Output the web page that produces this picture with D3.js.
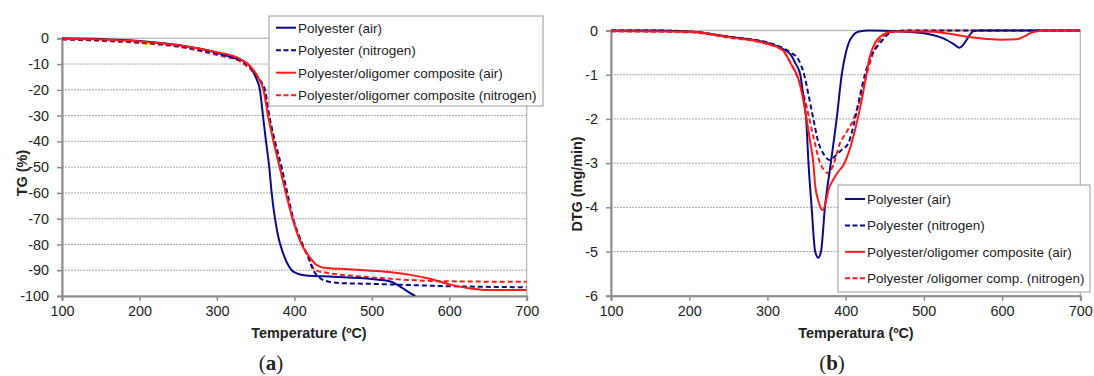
<!DOCTYPE html>
<html>
<head>
<meta charset="utf-8">
<script src="https://cdn.jsdelivr.net/npm/d3@7"></script>
<style>
  body { margin: 0; background: #fff; }
  svg { display: block; }
  text { font-family: 'Liberation Sans', Arial, sans-serif; fill: #222; }
</style>
</head>
<body>
<div id="chart"></div>
<script>
// ---- data: [temperature °C, value] ----
const tgTicksX = [100, 200, 300, 400, 500, 600, 700];
const tgTicksY = [0, -10, -20, -30, -40, -50, -60, -70, -80, -90, -100];
const dtgTicksY = [0, -1, -2, -3, -4, -5, -6];

const tgPolyAir = [[100, 0], [150, -0.3], [200, -1], [250, -2.6], [300, -5.6], [320, -7.5], [335, -9],
  [343, -11], [350, -15], [355.5, -20], [359.5, -30], [363.4, -40], [367.6, -50], [370.7, -60],
  [375, -70], [380, -78], [385, -83], [390, -86.8], [396.6, -90], [404, -91.3], [415, -92], [450, -92.5],
  [500, -93.4], [523, -94.3], [532, -95.5], [540, -97], [548, -98.6], [556, -100]];
const tgPolyN2 = [[100, -0.3], [150, -0.7], [200, -1.5], [250, -3], [300, -6], [330, -8.5], [345, -12],
  [355, -16], [362, -20], [367.6, -30], [375, -40], [383.6, -50], [390.9, -60], [398.6, -70],
  [410.7, -80], [418, -85], [424.5, -90], [433, -93], [445, -94.5], [460, -95], [500, -95.3],
  [600, -96.2], [700, -96.6]];
const tgCompAir = [[100, -0.2], [150, -0.5], [200, -1.2], [250, -2.7], [300, -5.4], [330, -8],
  [345, -11.5], [353, -15], [360, -20], [366, -30], [373, -40], [381, -50], [389, -60],
  [397.7, -70], [409.4, -80], [420, -85], [428.8, -88], [437.5, -89], [470, -89.6], [500, -90.2],
  [525, -90.8], [550, -91.8], [575, -93.3], [600, -95.5], [625, -97], [650, -97.7], [700, -97.7]];
const tgCompN2 = [[100, -0.5], [150, -1], [200, -1.8], [250, -3.3], [300, -6.5], [330, -9],
  [345, -12.5], [355, -16], [361, -20], [367, -30], [374, -40], [382, -50], [389.5, -60],
  [398, -70], [410, -80], [418, -85], [427, -90], [442, -91], [480, -92.3], [510, -93],
  [550, -93.8], [600, -94.3], [700, -94.5]];

const dtgPolyAir = [[100, 0], [150, 0], [200, -0.02], [250, -0.14], [300, -0.28], [320, -0.42],
  [330, -0.55], [336, -0.75], [342, -1], [346, -1.5], [349.5, -2], [352.5, -3], [356.5, -4],
  [361, -5], [365, -5.14], [368.5, -5], [373.5, -4], [381, -3], [388.5, -2], [395, -1],
  [399, -0.6], [403.5, -0.3], [410, -0.1], [416, -0.03], [430, 0], [470, -0.02], [500, -0.06],
  [525, -0.18], [540, -0.33], [545.5, -0.39], [550, -0.33], [555, -0.2], [563, -0.02],
  [570, 0], [700, 0]];
const dtgPolyN2 = [[100, 0], [150, 0], [200, -0.02], [250, -0.14], [300, -0.27], [320, -0.4],
  [330, -0.5], [340, -0.67], [347, -1], [353, -1.5], [358.7, -2], [364.7, -2.5], [372, -2.8],
  [380, -2.93], [386, -2.85], [395, -2.7], [403.5, -2.55], [408, -2.3], [412, -2], [418, -1.5],
  [425, -0.97], [432, -0.6], [444, -0.29], [456, -0.06], [465, -0.01], [480, 0], [700, 0]];
const dtgCompAir = [[100, -0.01], [200, -0.03], [250, -0.15], [300, -0.3], [320, -0.45],
  [330, -0.75], [340, -1.12], [345, -1.5], [350, -2], [354.5, -2.5], [358.7, -3], [361, -3.5],
  [365, -3.85], [370.7, -4.06], [375, -3.85], [378, -3.61], [385, -3.35], [390.7, -3.19],
  [397, -3.05], [405, -2.7], [412, -2.25], [420.6, -1.57], [426, -1.05], [431, -0.59],
  [437, -0.3], [444, -0.14], [460, -0.03], [480, -0.02], [512, -0.03], [530, -0.07],
  [555, -0.14], [580, -0.19], [600, -0.21], [619, -0.2], [630, -0.12], [636, -0.06],
  [645, -0.02], [653, 0], [700, 0]];
const dtgCompN2 = [[100, -0.02], [200, -0.04], [250, -0.16], [300, -0.31], [320, -0.46],
  [330, -0.75], [340, -1.12], [347, -1.5], [353.6, -2], [360, -2.5], [367.3, -3], [372, -3.15],
  [378, -3.23], [384, -3.05], [392.8, -2.55], [401, -2.3], [409.8, -2.02], [415, -1.75],
  [420.6, -1.42], [431, -0.74], [437, -0.43], [444, -0.21], [452, -0.08], [460, -0.03],
  [480, 0], [700, 0]];

const tgNames = ['Polyester (air)', 'Polyester (nitrogen)',
  'Polyester/oligomer composite (air)', 'Polyester/oligomer composite (nitrogen)'];
const dtgNames = ['Polyester (air)', 'Polyester (nitrogen)',
  'Polyester/oligomer composite (air)', 'Polyester /oligomer comp. (nitrogen)'];

const navy = '#0a0a8a';
const red = '#ff1a1a';
const styles = [
  {color: navy, dash: null},
  {color: navy, dash: '5,3'},
  {color: red, dash: null},
  {color: red, dash: '5,3'}
];

const svg = d3.select('#chart').append('svg')
    .attr('width', 1094)
    .attr('height', 376);

// plain hyphen minus, integers only
const fmt = (d) => String(d);

function drawPanel(opt) {
  const x = d3.scaleLinear().domain([100, 700]).range([opt.left, opt.right]);
  const y = d3.scaleLinear().domain(opt.yDomain).range([opt.top, opt.bottom]);
  const g = svg.append('g');

  // gridlines
  g.selectAll('.grid')
      .data(opt.yTicks.slice(1, -1))
      .enter()
      .append('line')
      .attr('x1', opt.left).attr('x2', opt.right)
      .attr('y1', (d) => y(d)).attr('y2', (d) => y(d))
      .attr('stroke', '#a8a8a8')
      .attr('stroke-width', 1)
      .attr('stroke-dasharray', '2,1');

  // plot border
  g.append('rect')
      .attr('x', opt.left).attr('y', opt.top)
      .attr('width', opt.right - opt.left).attr('height', opt.bottom - opt.top)
      .attr('fill', 'none')
      .attr('stroke', '#b4b4b4')
      .attr('stroke-width', 1.2);

  // axes
  const xAxis = g.append('g')
      .attr('transform', 'translate(0,' + opt.bottom + ')')
      .call(d3.axisBottom(x).tickValues(tgTicksX).tickFormat(fmt).tickSize(5).tickPadding(5));
  const yAxis = g.append('g')
      .attr('transform', 'translate(' + opt.left + ',0)')
      .call(d3.axisLeft(y).tickValues(opt.yTicks).tickFormat(fmt).tickSize(5).tickPadding(8));
  [xAxis, yAxis].forEach(function(a) {
    a.select('.domain').attr('stroke', '#8c8c8c').attr('stroke-width', 2);
    a.selectAll('.tick line').attr('stroke', '#8c8c8c').attr('stroke-width', 1.5);
    a.selectAll('.tick text')
        .style('font-family', "'Liberation Sans', Arial, sans-serif")
        .style('font-size', '14.4px')
        .attr('fill', '#222');
  });

  // clip + curves
  g.append('clipPath')
      .attr('id', opt.id + '-clip')
      .append('rect')
      .attr('x', opt.left).attr('y', opt.top - 3)
      .attr('width', opt.right - opt.left).attr('height', opt.bottom - opt.top + 3);

  const line = d3.line()
      .x((d) => x(d[0]))
      .y((d) => y(d[1]))
      .curve(d3.curveMonotoneX);

  const order = [3, 1, 0, 2];
  g.append('g')
      .attr('clip-path', 'url(#' + opt.id + '-clip)')
      .selectAll('path')
      .data(order)
      .enter()
      .append('path')
      .attr('d', (i) => line(opt.series[i]))
      .attr('fill', 'none')
      .attr('stroke', (i) => styles[i].color)
      .attr('stroke-width', 2)
      .attr('stroke-dasharray', (i) => styles[i].dash);

  // axis titles
  g.append('text')
      .attr('x', opt.xTitleX).attr('y', 338)
      .attr('text-anchor', 'middle')
      .style('font-weight', 'bold')
      .style('font-size', '14.4px')
      .text(opt.xTitle);
  g.append('text')
      .attr('transform', 'translate(' + opt.yTitleX + ',' + opt.yTitleY + ') rotate(-90)')
      .attr('text-anchor', 'middle')
      .style('font-weight', 'bold')
      .style('font-size', '14.4px')
      .text(opt.yTitle);

  // panel letter
  const lab = g.append('text')
      .attr('x', opt.letterX).attr('y', 370)
      .attr('text-anchor', 'middle')
      .style('font-family', "'Liberation Serif', 'DejaVu Serif', serif")
      .style('font-size', '21px')
      .attr('fill', '#000');
  lab.append('tspan').text('(');
  lab.append('tspan').style('font-weight', 'bold').text(opt.letter);
  lab.append('tspan').text(')');

  // legend
  const lg = opt.legend;
  const leg = g.append('g');
  leg.append('rect')
      .attr('x', lg.x).attr('y', lg.y)
      .attr('width', lg.w).attr('height', lg.h)
      .attr('fill', '#fff')
      .attr('stroke', '#9a9a9a')
      .attr('stroke-width', 1);
  const item = leg.selectAll('.item')
      .data(opt.names)
      .enter()
      .append('g')
      .attr('transform', (d, i) => 'translate(' + (lg.x + 7) + ',' + (lg.y + lg.first + i * lg.step) + ')');
  item.append('line')
      .attr('x1', 0).attr('x2', 20)
      .attr('stroke', (d, i) => styles[i].color)
      .attr('stroke-width', 2)
      .attr('stroke-dasharray', (d, i) => styles[i].dash ? '5,2.5' : null);
  item.append('text')
      .attr('x', 22).attr('y', 5)
      .style('font-size', '13.5px')
      .text((d) => d);
}

drawPanel({
  id: 'tg', left: 62, right: 526.7, top: 38.3, bottom: 296,
  yDomain: [0, -100], yTicks: tgTicksY,
  series: [tgPolyAir, tgPolyN2, tgCompAir, tgCompN2],
  names: tgNames,
  xTitle: 'Temperature (ºC)', xTitleX: 309,
  yTitle: 'TG (%)', yTitleX: 27, yTitleY: 173,
  letter: 'a', letterX: 271,
  legend: {x: 269, y: 16, w: 274, h: 90, first: 11.7, step: 22.5}
});

drawPanel({
  id: 'dtg', left: 611, right: 1080.3, top: 30.5, bottom: 295.7,
  yDomain: [0, -6], yTicks: dtgTicksY,
  series: [dtgPolyAir, dtgPolyN2, dtgCompAir, dtgCompN2],
  names: dtgNames,
  xTitle: 'Temperatura (ºC)', xTitleX: 856,
  yTitle: 'DTG (mg/min)', yTitleX: 582, yTitleY: 184,
  letter: 'b', letterX: 832,
  legend: {x: 838, y: 185, w: 252, h: 107, first: 14, step: 26.4}
});
</script>
</body>
</html>
